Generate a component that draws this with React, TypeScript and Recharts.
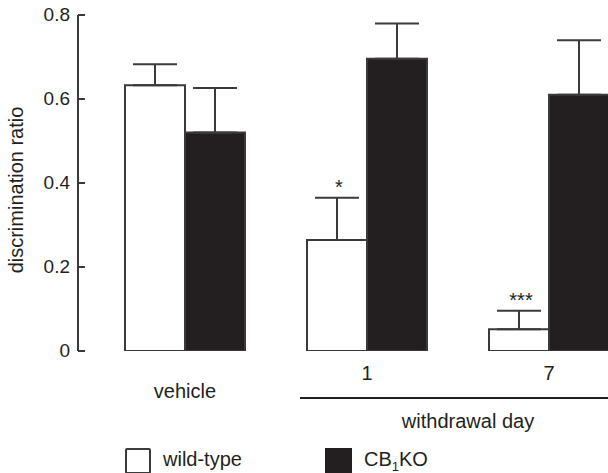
import React from 'react';
import { BarChart, Bar, XAxis, YAxis, ErrorBar, LabelList, Legend } from 'recharts';

const categories = ['vehicle', '1', '7'];
const wildType = [0.633, 0.264, 0.052];
const wildTypeErr = [0.05, 0.101, 0.044];
const cb1ko = [0.52, 0.696, 0.61];
const cb1koErr = [0.106, 0.084, 0.13];
const significance = ['', '*', '***'];
const yTicks = [0, 0.2, 0.4, 0.6, 0.8];
const seriesNames = ['wild-type', 'CB1KO'];

const data = categories.map((c, i) => ({
  category: c,
  wildType: wildType[i],
  wildTypeErr: [0, wildTypeErr[i]],
  cb1ko: cb1ko[i],
  cb1koErr: [0, cb1koErr[i]],
  sig: significance[i],
}));

const FONT = '"Liberation Sans", Arial, Helvetica, sans-serif';
const INK = '#231f20';
const LINE = '#3a3a3a';

const YTick = (props: any) => {
  const { x, y, payload } = props;
  return (
    <g>
      <line x1={x} x2={x + 7} y1={y} y2={y} stroke={LINE} strokeWidth={2} />
      <text x={x - 8} y={y + 6} textAnchor="end" fontSize={19} fill={INK} fontFamily={FONT}>
        {String(payload.value)}
      </text>
    </g>
  );
};

const XTick = (props: any) => {
  const { x, y, payload, index } = props;
  return (
    <text x={x} y={y + (index === 0 ? 47 : 29)} textAnchor="middle" fontSize={20} fill={INK} fontFamily={FONT}>
      {payload.value}
    </text>
  );
};

const WithdrawalLabel = (props: any) => {
  const vb = props.viewBox || {};
  const x0 = 300;
  const x1 = (vb.x || 0) + (vb.width || 0);
  const y = (vb.y || 0) + 47;
  return (
    <g>
      <line x1={x0} x2={x1} y1={y} y2={y} stroke={INK} strokeWidth={2} />
      <text x={(x0 + x1) / 2 - 2} y={y + 30} textAnchor="middle" fontSize={20} fill={INK} fontFamily={FONT}>
        withdrawal day
      </text>
    </g>
  );
};

const YLabel = (props: any) => {
  const vb = props.viewBox || {};
  const cx = 23;
  const cy = (vb.y || 0) + (vb.height || 0) / 2 + 7;
  return (
    <text x={cx} y={cy} transform={`rotate(-90, ${cx}, ${cy})`} textAnchor="middle" fontSize={20} fill={INK} fontFamily={FONT}>
      discrimination ratio
    </text>
  );
};

const SigLabel = (props: any) => {
  const { x, y, width, height, value, index } = props;
  if (!value) return null;
  const v = wildType[index];
  const err = wildTypeErr[index];
  const pxPerUnit = height / v;
  const errTop = y - err * pxPerUnit;
  return (
    <text x={x + width / 2 + 2} y={errTop - 4} textAnchor="middle" fontSize={20} fill={INK} fontFamily={FONT}>
      {value}
    </text>
  );
};

const legendX: Record<string, number> = { 'wild-type': 125, CB1KO: 325 };
const renderLegend = (props: any) => {
  const { payload = [] } = props;
  return (
    <div style={{ position: 'relative', width: 608, height: 27, fontFamily: FONT }}>
      {payload.map((entry: any) => {
        const isWT = entry.value === seriesNames[0];
        const lx = legendX[entry.value] ?? 0;
        return (
          <React.Fragment key={entry.value}>
            <div
              style={{
                position: 'absolute',
                left: lx,
                top: 2,
                width: isWT ? 22 : 27,
                height: isWT ? 22 : 27,
                background: isWT ? '#ffffff' : INK,
                border: isWT ? `2px solid ${LINE}` : 'none',
                borderRadius: isWT ? 2 : 0,
              }}
            />
            <span
              style={{
                position: 'absolute',
                left: lx + (isWT ? 38 : 39),
                top: 3,
                fontSize: 20,
                lineHeight: '20px',
                color: INK,
                whiteSpace: 'nowrap',
              }}
            >
              {entry.value === 'CB1KO' ? (
                <>
                  CB<span style={{ fontSize: 13, position: 'relative', top: 5 }}>1</span>KO
                </>
              ) : (
                entry.value
              )}
            </span>
          </React.Fragment>
        );
      })}
    </div>
  );
};

export default function App() {
  return (
    <div style={{ position: 'absolute', left: 0, top: 0, width: 608, height: 473, overflow: 'hidden', background: '#fff' }}>
      <BarChart
        width={642}
        height={473}
        data={data}
        margin={{ top: 15, right: 2, bottom: 62, left: 0 }}
        barGap={0}
        barSize={60}
        style={{ fontFamily: FONT }}
      >
        <XAxis
          dataKey="category"
          axisLine={false}
          tickLine={false}
          tickSize={0}
          tickMargin={0}
          height={60}
          padding={{ left: 16, right: 0 }}
          tick={<XTick />}
          interval={0}
          label={WithdrawalLabel}
        />
        <YAxis
          domain={[0, 0.8]}
          ticks={yTicks}
          width={78}
          axisLine={{ stroke: LINE, strokeWidth: 2 }}
          tickLine={false}
          tickSize={0}
          tickMargin={0}
          tick={<YTick />}
          label={YLabel}
          allowDataOverflow
        />
        <Legend
          layout="horizontal"
          verticalAlign="middle"
          align="center"
          itemSorter={null}
          wrapperStyle={{ top: 446, left: 0, width: 608, height: 27 }}
          content={renderLegend}
        />
        <Bar dataKey="wildType" name={seriesNames[0]} fill="#ffffff" stroke={LINE} strokeWidth={2} isAnimationActive={false}>
          <ErrorBar dataKey="wildTypeErr" direction="y" width={22} stroke={LINE} strokeWidth={2} isAnimationActive={false} />
          <LabelList dataKey="sig" content={SigLabel} />
        </Bar>
        <Bar dataKey="cb1ko" name={seriesNames[1]} fill={INK} stroke={LINE} strokeWidth={2} isAnimationActive={false}>
          <ErrorBar dataKey="cb1koErr" direction="y" width={22} stroke={LINE} strokeWidth={2} isAnimationActive={false} />
        </Bar>
      </BarChart>
    </div>
  );
}
